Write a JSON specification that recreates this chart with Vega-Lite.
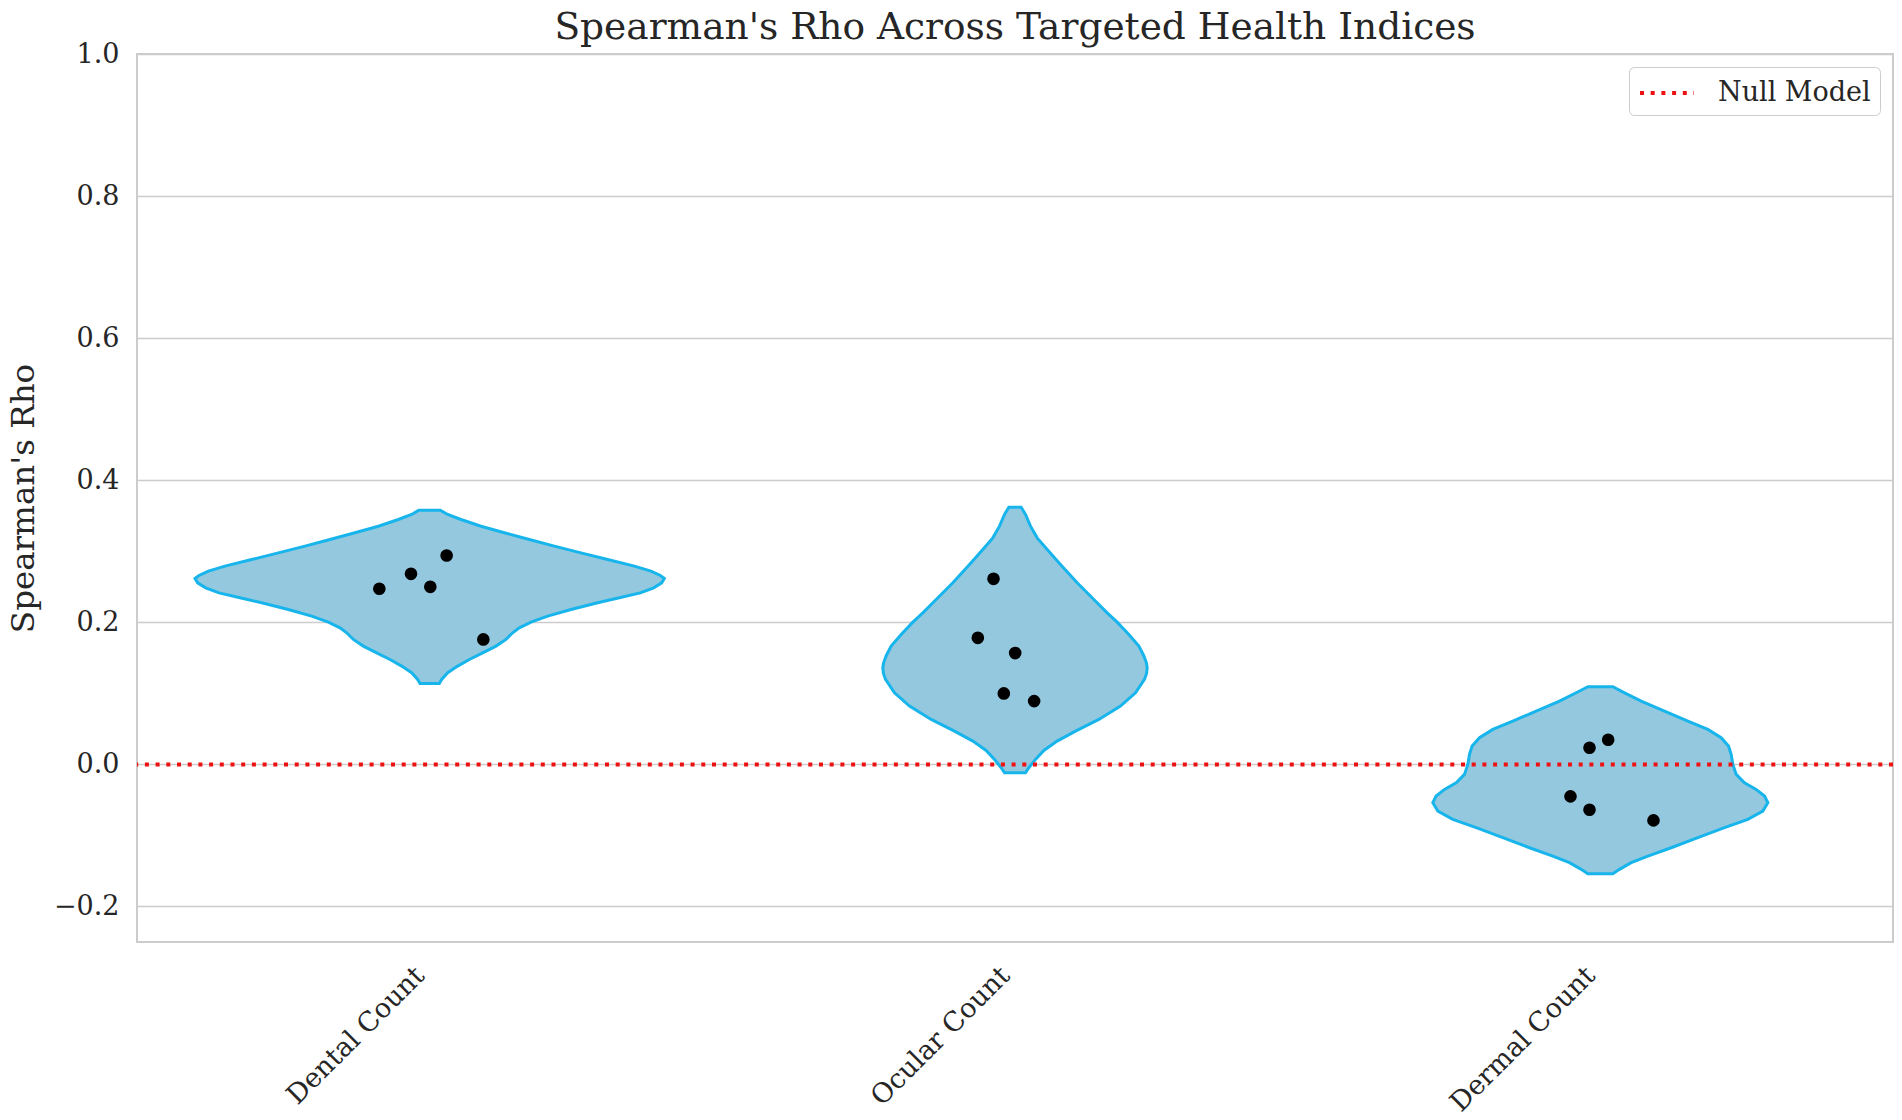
{
  "$schema": "https://vega.github.io/schema/vega-lite/v6.json",
  "width": 1756,
  "height": 888,
  "autosize": {"type": "none"},
  "padding": {"left": 137, "top": 54, "right": 9, "bottom": 178},
  "background": "white",
  "title": {"text": "Spearman's Rho Across Targeted Health Indices", "fontSize": 37.5, "font": "DejaVu Serif", "fontWeight": "normal", "color": "#262626", "anchor": "middle", "frame": "group", "baseline": "alphabetic", "offset": 0, "dy": 36},
  "config": {
    "font": "DejaVu Serif",
    "view": {"stroke": "#cccccc", "strokeWidth": 2}
  },
  "datasets": {
    "violins": [
      {"group": "Dental Count", "rho": 0.3579, "left": -0.0182, "right": 0.0182},
      {"group": "Dental Count", "rho": 0.3518, "left": -0.0308, "right": 0.0308},
      {"group": "Dental Count", "rho": 0.3447, "left": -0.0535, "right": 0.0535},
      {"group": "Dental Count", "rho": 0.3353, "left": -0.0877, "right": 0.0877},
      {"group": "Dental Count", "rho": 0.3260, "left": -0.1276, "right": 0.1276},
      {"group": "Dental Count", "rho": 0.3166, "left": -0.1703, "right": 0.1703},
      {"group": "Dental Count", "rho": 0.3072, "left": -0.2130, "right": 0.2130},
      {"group": "Dental Count", "rho": 0.2978, "left": -0.2585, "right": 0.2585},
      {"group": "Dental Count", "rho": 0.2884, "left": -0.3041, "right": 0.3041},
      {"group": "Dental Count", "rho": 0.2791, "left": -0.3497, "right": 0.3497},
      {"group": "Dental Count", "rho": 0.2720, "left": -0.3781, "right": 0.3781},
      {"group": "Dental Count", "rho": 0.2659, "left": -0.3941, "right": 0.3941},
      {"group": "Dental Count", "rho": 0.2617, "left": -0.4009, "right": 0.4009},
      {"group": "Dental Count", "rho": 0.2556, "left": -0.3964, "right": 0.3964},
      {"group": "Dental Count", "rho": 0.2486, "left": -0.3827, "right": 0.3827},
      {"group": "Dental Count", "rho": 0.2415, "left": -0.3599, "right": 0.3599},
      {"group": "Dental Count", "rho": 0.2345, "left": -0.3240, "right": 0.3240},
      {"group": "Dental Count", "rho": 0.2275, "left": -0.2870, "right": 0.2870},
      {"group": "Dental Count", "rho": 0.2181, "left": -0.2415, "right": 0.2415},
      {"group": "Dental Count", "rho": 0.2087, "left": -0.2016, "right": 0.2016},
      {"group": "Dental Count", "rho": 0.2003, "left": -0.1731, "right": 0.1731},
      {"group": "Dental Count", "rho": 0.1923, "left": -0.1532, "right": 0.1532},
      {"group": "Dental Count", "rho": 0.1853, "left": -0.1418, "right": 0.1418},
      {"group": "Dental Count", "rho": 0.1759, "left": -0.1304, "right": 0.1304},
      {"group": "Dental Count", "rho": 0.1665, "left": -0.1133, "right": 0.1133},
      {"group": "Dental Count", "rho": 0.1571, "left": -0.0905, "right": 0.0905},
      {"group": "Dental Count", "rho": 0.1477, "left": -0.0678, "right": 0.0678},
      {"group": "Dental Count", "rho": 0.1384, "left": -0.0478, "right": 0.0478},
      {"group": "Dental Count", "rho": 0.1290, "left": -0.0308, "right": 0.0308},
      {"group": "Dental Count", "rho": 0.1196, "left": -0.0205, "right": 0.0205},
      {"group": "Dental Count", "rho": 0.1140, "left": -0.0165, "right": 0.0165},
      {"group": "Ocular Count", "rho": 0.3621, "left": 0.9895, "right": 1.0105},
      {"group": "Ocular Count", "rho": 0.3518, "left": 0.9821, "right": 1.0179},
      {"group": "Ocular Count", "rho": 0.3354, "left": 0.9735, "right": 1.0265},
      {"group": "Ocular Count", "rho": 0.3189, "left": 0.9621, "right": 1.0379},
      {"group": "Ocular Count", "rho": 0.3025, "left": 0.9450, "right": 1.0550},
      {"group": "Ocular Count", "rho": 0.2814, "left": 0.9223, "right": 1.0777},
      {"group": "Ocular Count", "rho": 0.2556, "left": 0.8938, "right": 1.1062},
      {"group": "Ocular Count", "rho": 0.2322, "left": 0.8653, "right": 1.1347},
      {"group": "Ocular Count", "rho": 0.2134, "left": 0.8425, "right": 1.1575},
      {"group": "Ocular Count", "rho": 0.2003, "left": 0.8255, "right": 1.1745},
      {"group": "Ocular Count", "rho": 0.1829, "left": 0.8055, "right": 1.1945},
      {"group": "Ocular Count", "rho": 0.1665, "left": 0.7884, "right": 1.2116},
      {"group": "Ocular Count", "rho": 0.1530, "left": 0.7800, "right": 1.2200},
      {"group": "Ocular Count", "rho": 0.1430, "left": 0.7755, "right": 1.2245},
      {"group": "Ocular Count", "rho": 0.1360, "left": 0.7742, "right": 1.2258},
      {"group": "Ocular Count", "rho": 0.1280, "left": 0.7752, "right": 1.2248},
      {"group": "Ocular Count", "rho": 0.1196, "left": 0.7788, "right": 1.2212},
      {"group": "Ocular Count", "rho": 0.1008, "left": 0.7941, "right": 1.2059},
      {"group": "Ocular Count", "rho": 0.0821, "left": 0.8198, "right": 1.1802},
      {"group": "Ocular Count", "rho": 0.0633, "left": 0.8568, "right": 1.1432},
      {"group": "Ocular Count", "rho": 0.0469, "left": 0.8966, "right": 1.1034},
      {"group": "Ocular Count", "rho": 0.0328, "left": 0.9280, "right": 1.0720},
      {"group": "Ocular Count", "rho": 0.0197, "left": 0.9507, "right": 1.0493},
      {"group": "Ocular Count", "rho": 0.0070, "left": 0.9650, "right": 1.0350},
      {"group": "Ocular Count", "rho": -0.0047, "left": 0.9764, "right": 1.0236},
      {"group": "Ocular Count", "rho": -0.0117, "left": 0.9821, "right": 1.0179},
      {"group": "Dermal Count", "rho": 0.1093, "left": 1.9786, "right": 2.0214},
      {"group": "Dermal Count", "rho": 0.1008, "left": 1.9587, "right": 2.0413},
      {"group": "Dermal Count", "rho": 0.0891, "left": 1.9302, "right": 2.0698},
      {"group": "Dermal Count", "rho": 0.0751, "left": 1.8904, "right": 2.1096},
      {"group": "Dermal Count", "rho": 0.0610, "left": 1.8505, "right": 2.1495},
      {"group": "Dermal Count", "rho": 0.0493, "left": 1.8163, "right": 2.1837},
      {"group": "Dermal Count", "rho": 0.0375, "left": 1.7936, "right": 2.2064},
      {"group": "Dermal Count", "rho": 0.0258, "left": 1.7810, "right": 2.2190},
      {"group": "Dermal Count", "rho": 0.0141, "left": 1.7765, "right": 2.2235},
      {"group": "Dermal Count", "rho": 0.0000, "left": 1.7736, "right": 2.2264},
      {"group": "Dermal Count", "rho": -0.0141, "left": 1.7679, "right": 2.2321},
      {"group": "Dermal Count", "rho": -0.0258, "left": 1.7537, "right": 2.2463},
      {"group": "Dermal Count", "rho": -0.0352, "left": 1.7338, "right": 2.2662},
      {"group": "Dermal Count", "rho": -0.0446, "left": 1.7195, "right": 2.2805},
      {"group": "Dermal Count", "rho": -0.0539, "left": 1.7138, "right": 2.2862},
      {"group": "Dermal Count", "rho": -0.0657, "left": 1.7224, "right": 2.2776},
      {"group": "Dermal Count", "rho": -0.0774, "left": 1.7480, "right": 2.2520},
      {"group": "Dermal Count", "rho": -0.0891, "left": 1.7879, "right": 2.2121},
      {"group": "Dermal Count", "rho": -0.1032, "left": 1.8334, "right": 2.1666},
      {"group": "Dermal Count", "rho": -0.1173, "left": 1.8790, "right": 2.1210},
      {"group": "Dermal Count", "rho": -0.1290, "left": 1.9188, "right": 2.0812},
      {"group": "Dermal Count", "rho": -0.1384, "left": 1.9473, "right": 2.0527},
      {"group": "Dermal Count", "rho": -0.1477, "left": 1.9673, "right": 2.0327},
      {"group": "Dermal Count", "rho": -0.1538, "left": 1.9786, "right": 2.0214}
    ],
    "points": [
      {"group": "Dental Count", "pos": -0.0860, "rho": 0.2472},
      {"group": "Dental Count", "pos": -0.0319, "rho": 0.2683},
      {"group": "Dental Count", "pos": 0.0011, "rho": 0.2500},
      {"group": "Dental Count", "pos": 0.0290, "rho": 0.2941},
      {"group": "Dental Count", "pos": 0.0917, "rho": 0.1759},
      {"group": "Ocular Count", "pos": 0.9633, "rho": 0.2612},
      {"group": "Ocular Count", "pos": 0.9365, "rho": 0.1782},
      {"group": "Ocular Count", "pos": 1.0003, "rho": 0.1567},
      {"group": "Ocular Count", "pos": 0.9809, "rho": 0.0999},
      {"group": "Ocular Count", "pos": 1.0327, "rho": 0.0891},
      {"group": "Dermal Count", "pos": 2.0134, "rho": 0.0347},
      {"group": "Dermal Count", "pos": 1.9815, "rho": 0.0235},
      {"group": "Dermal Count", "pos": 1.9490, "rho": -0.0450},
      {"group": "Dermal Count", "pos": 1.9815, "rho": -0.0638},
      {"group": "Dermal Count", "pos": 2.0908, "rho": -0.0788}
    ],
    "nullmodel": [
      {"label": "Null Model", "rho": 0}
    ]
  },
  "layer": [
    {
      "data": {"name": "violins"},
      "mark": {"type": "area", "orient": "horizontal", "fill": "#94c8de", "stroke": "#17b5ec", "strokeWidth": 3, "opacity": 1, "fillOpacity": 1},
      "encoding": {
        "y": {
          "field": "rho", "type": "quantitative",
          "scale": {"domain": [-0.25, 1.0], "nice": false, "zero": false},
          "axis": {
            "values": [-0.2, 0, 0.2, 0.4, 0.6, 0.8, 1.0],
            "labelExpr": "replace(format(datum.value, '.1f'), '-', '\u2212')",
            "grid": true, "gridColor": "#cccccc", "gridWidth": 1.6,
            "domain": false, "ticks": false,
            "labelPadding": 18, "labelFontSize": 27, "labelFont": "DejaVu Serif", "labelColor": "#262626",
            "title": "Spearman's Rho", "titleFontSize": 32.5, "titleFont": "DejaVu Serif", "titleFontWeight": "normal", "titleColor": "#262626", "titlePadding": 13
          }
        },
        "x": {
          "field": "left", "type": "quantitative",
          "scale": {"domain": [-0.5, 2.5], "nice": false, "zero": false},
          "axis": {
            "values": [0, 1, 2],
            "labelExpr": "datum.value == 0 ? 'Dental Count' : datum.value == 1 ? 'Ocular Count' : 'Dermal Count'",
            "grid": false, "domain": false, "ticks": false,
            "labelAngle": -45, "labelAlign": "right", "labelBaseline": "top", "labelPadding": 20, "labelOffset": -19, "labelLimit": 500,
            "labelFontSize": 27, "labelFont": "DejaVu Serif", "labelColor": "#262626",
            "title": null
          }
        },
        "x2": {"field": "right"},
        "detail": {"field": "group"}
      }
    },
    {
      "data": {"name": "nullmodel"},
      "mark": {"type": "rule", "strokeWidth": 4, "strokeDash": [4, 6.7]},
      "encoding": {
        "y": {"field": "rho", "type": "quantitative"},
        "color": {
          "field": "label", "type": "nominal",
          "scale": {"range": ["#ee1111"]},
          "legend": {
            "title": null, "orient": "top-right", "offset": 13,
            "symbolType": "M-1,0H2.6", "symbolStrokeWidth": 4, "symbolDash": [4, 6.7], "symbolSize": 900, "symbolStrokeColor": "#ee1111", "symbolFillColor": "transparent",
            "labelFontSize": 27, "labelFont": "DejaVu Serif", "labelColor": "#262626", "labelOffset": 46,
            "fillColor": "white", "strokeColor": "#cccccc", "cornerRadius": 5, "padding": 9
          }
        }
      }
    },
    {
      "data": {"name": "points"},
      "mark": {"type": "circle", "color": "black", "size": 160, "opacity": 1},
      "encoding": {
        "x": {"field": "pos", "type": "quantitative"},
        "y": {"field": "rho", "type": "quantitative"}
      }
    }
  ]
}
